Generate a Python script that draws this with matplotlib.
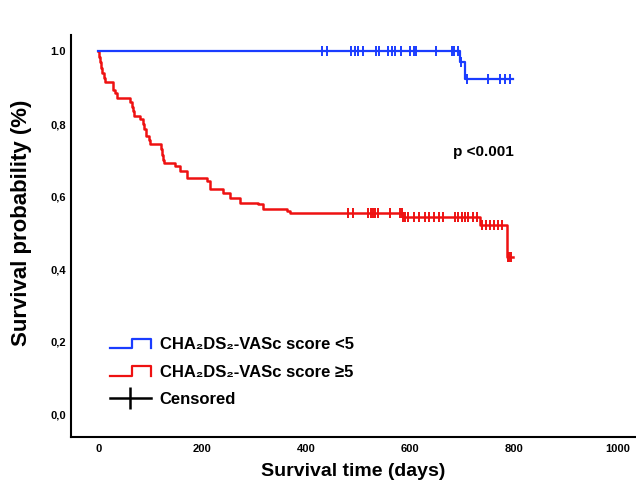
import numpy as np
import matplotlib
matplotlib.use("Agg")
import matplotlib.pyplot as plt
from matplotlib.lines import Line2D
from matplotlib.legend_handler import HandlerBase

plt.rcParams['font.family'] = ['Liberation Sans', 'DejaVu Sans']

# Kaplan-Meier curves (days, survival)
blue_t = [0, 696, 706, 798]
blue_s = [1.0, 0.97, 0.925, 0.925]
blue_cens = [431, 441, 487, 494, 500, 510, 534, 540, 557, 566, 571, 583,
             600, 608, 612, 650, 681, 685, 692, 699, 710, 750, 773, 783, 792]

red_t = [0, 2, 4, 6, 8, 11, 13, 29, 33, 36, 62, 64, 66, 68, 80, 86, 89, 92,
         97, 99, 120, 122, 124, 126, 148, 158, 170, 209, 215, 241, 254, 273,
         308, 318, 363, 369, 586, 735, 786, 798]
red_s = [1.0, 0.985, 0.97, 0.955, 0.94, 0.928, 0.917, 0.895, 0.885, 0.872,
         0.86, 0.848, 0.835, 0.823, 0.813, 0.80, 0.786, 0.767, 0.755, 0.744,
         0.73, 0.715, 0.70, 0.693, 0.684, 0.67, 0.652, 0.643, 0.62, 0.611,
         0.597, 0.583, 0.579, 0.565, 0.56, 0.556, 0.543, 0.523, 0.433, 0.433]
red_cens = [481, 490, 519, 524, 529, 533, 538, 561, 581, 584, 587, 590, 597,
            608, 618, 628, 637, 647, 656, 663, 687, 692, 700, 706, 712, 722,
            729, 738, 746, 754, 762, 770, 778, 788, 791, 795]

x_ticks = [0, 200, 400, 600, 800, 1000]
y_ticks = [0.0, 0.2, 0.4, 0.6, 0.8, 1.0]
y_labels = ["0,0", "0,2", "0,4", "0,6", "0,8", "1.0"]

labels = ["CHA\u2082DS\u2082-VASc score <5", "CHA\u2082DS\u2082-VASc score \u22655", "Censored"]

BLUE = "#1a3cff"
RED = "#ee1111"


def surv_at(times, surv, t):
    # value of a post-step curve at time t
    idx = np.searchsorted(times, t, side='right') - 1
    return np.asarray(surv)[idx]


class StepHandler(HandlerBase):
    # legend key drawn as a little step: low, up, flat, down
    def create_artists(self, legend, orig, xd, yd, w, h, fontsize, trans):
        xs = [0, 0.53 * w, 0.53 * w, w, w]
        ys = [0.1 * h, 0.1 * h, 0.9 * h, 0.9 * h, 0.1 * h]
        line = Line2D(np.array(xs) - xd, np.array(ys) - yd,
                      color=orig.get_color(), lw=1.6)
        line.set_transform(trans)
        return [line]


fig = plt.figure(figsize=(6.36, 4.88), dpi=100)
ax = fig.add_axes([0.112, 0.105, 0.888, 0.823])

ax.step(red_t, red_s, where='post', color=RED, lw=1.8, zorder=3)
ax.plot(red_cens, surv_at(red_t, red_s, red_cens), ls='none', marker='|',
        ms=7, mew=1.4, color=RED, zorder=4)
ax.step(blue_t, blue_s, where='post', color=BLUE, lw=1.6, zorder=3)
ax.plot(blue_cens, surv_at(blue_t, blue_s, blue_cens), ls='none', marker='|',
        ms=7, mew=1.4, color=BLUE, zorder=4)

ax.set_xlim(-52, 1035)
ax.set_ylim(-0.062, 1.045)
ax.set_xticks(x_ticks)
ax.set_xticklabels([str(v) for v in x_ticks], fontsize=8, fontweight='bold')
ax.set_yticks(y_ticks)
ax.set_yticklabels(y_labels, fontsize=8, fontweight='bold')
ax.tick_params(length=0)
ax.tick_params(axis='x', pad=5)
ax.tick_params(axis='y', pad=4)

for side in ['top', 'right']:
    ax.spines[side].set_visible(False)
ax.spines['left'].set_linewidth(1.5)
ax.spines['bottom'].set_linewidth(1.5)

ax.set_xlabel("Survival time (days)", fontsize=14, fontweight='bold')
ax.xaxis.set_label_coords(0.5, -0.066)
ax.set_ylabel("Survival probability (%)", fontsize=16, fontweight='bold')
ax.yaxis.set_label_coords(-0.069, 0.532)

ax.text(0.73, 0.709, "p <0.001", transform=ax.transAxes, fontsize=11,
        fontweight='bold', ha='center', va='center')

h_blue = Line2D([], [], color=BLUE)
h_red = Line2D([], [], color=RED)
h_cens = Line2D([0], [0], color='black', lw=1.8, marker='|', ms=16, mew=1.8)
ax.legend([h_blue, h_red, h_cens], labels,
          handler_map={h_blue: StepHandler(), h_red: StepHandler()},
          loc='upper left', bbox_to_anchor=(0.042, 0.285), frameon=False,
          prop={'weight': 'bold', 'size': 12}, handlelength=2.45,
          labelspacing=0.75, handletextpad=0.54)

plt.savefig("out.png", dpi=100)
